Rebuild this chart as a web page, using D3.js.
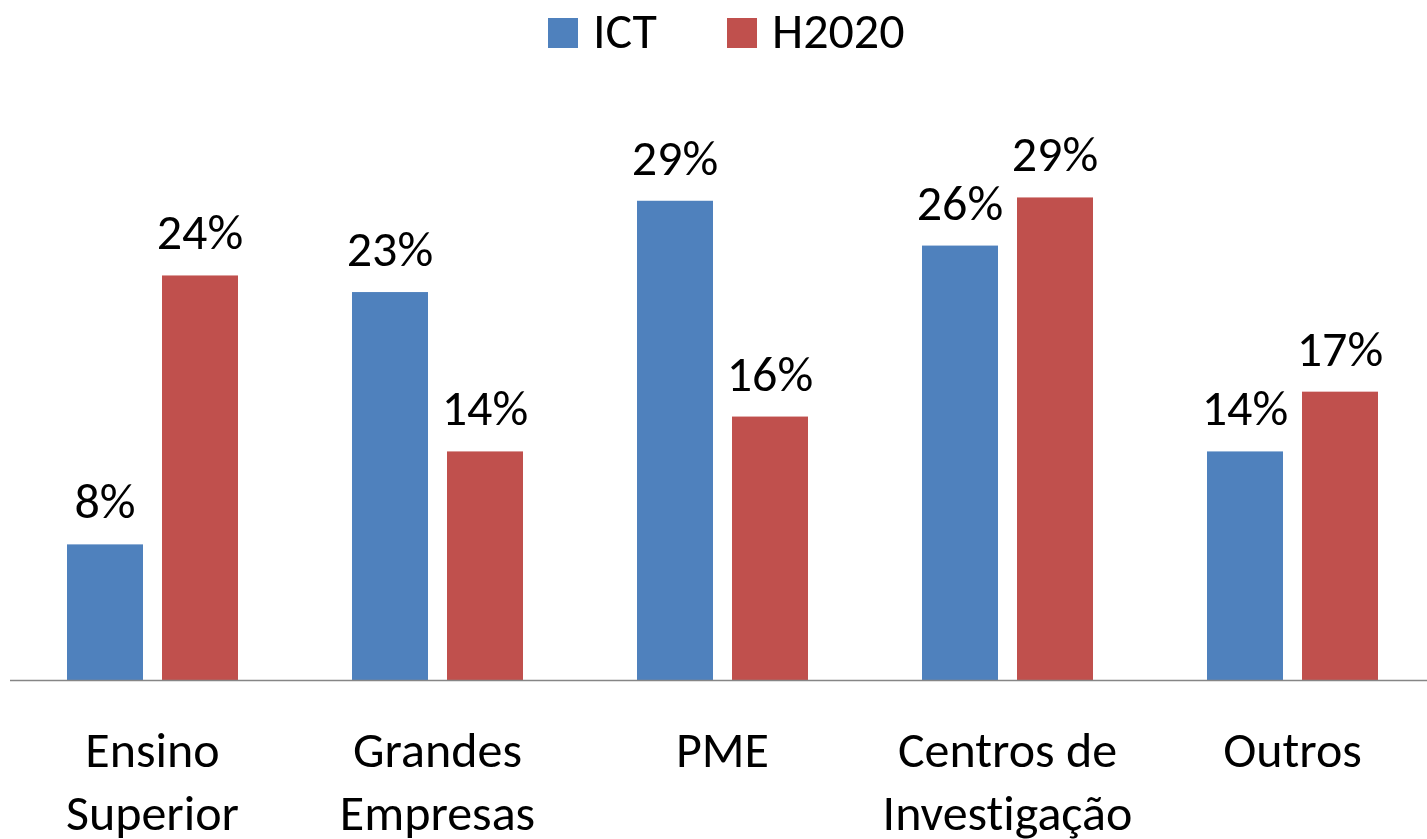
<!DOCTYPE html>
<meta charset="utf-8">
<title>ICT vs H2020</title>
<body>
<script src="https://cdn.jsdelivr.net/npm/d3@7"></script>
<style>
html, body {
    margin: 0;
    background: #fff;
}
svg {
    display: block;
    font-family: Carlito, Calibri, Lato, sans-serif;
    font-variant-ligatures: none;
}
</style>
<script>
var categories = ["Ensino Superior", "Grandes Empresas", "PME", "Centros de Investigação", "Outros"];
var categoryLines = [["Ensino", "Superior"], ["Grandes", "Empresas"], ["PME"], ["Centros de", "Investigação"], ["Outros"]];
var series = ["ICT", "H2020"];
var ictValues = [8.2, 23.4, 28.9, 26.2, 13.8];
var h2020Values = [24.4, 13.8, 15.9, 29.1, 17.4];
var colors = ["#4F81BD", "#C0504D"];

var width = 1427,
    height = 839,
    baseline = 680.5,
    fontSize = 50;

var svg = d3.select("body").append("svg")
    .attr("width", width)
    .attr("height", height);

var x0 = d3.scaleBand()
    .domain(categories)
    .range([10, 1435])
    .paddingInner(0.4)
    .paddingOuter(0.2);

var x1 = d3.scaleBand()
    .domain(series)
    .range([0, x0.bandwidth()])
    .paddingInner(0.2);

var y = d3.scaleLinear()
    .domain([0, 35])
    .range([baseline, baseline - 35 * 16.6]);

var rows = categories.map(function(c, i) {
    return { cat: c, vals: [
        { s: "ICT", v: ictValues[i] },
        { s: "H2020", v: h2020Values[i] }
    ] };
});

var groups = svg.selectAll("g.group")
    .data(rows)
    .enter().append("g")
    .attr("class", "group")
    .attr("transform", function(d) { return "translate(" + x0(d.cat) + ",0)"; });

groups.selectAll("rect")
    .data(function(d) { return d.vals; })
    .enter().append("rect")
    .attr("x", function(d) { return x1(d.s); })
    .attr("y", function(d) { return y(d.v); })
    .attr("width", x1.bandwidth())
    .attr("height", function(d) { return baseline - y(d.v); })
    .attr("fill", function(d) { return colors[series.indexOf(d.s)]; });

groups.selectAll("text.value")
    .data(function(d) { return d.vals; })
    .enter().append("text")
    .attr("class", "value")
    .attr("x", function(d) { return x1(d.s) + x1.bandwidth() / 2; })
    .attr("y", function(d) { return y(d.v) - 26; })
    .attr("text-anchor", "middle")
    .attr("font-size", fontSize)
    .attr("fill", "#000")
    .text(function(d) { return Math.round(d.v) + "%"; });

// category axis
svg.append("line")
    .attr("x1", 10)
    .attr("x2", width)
    .attr("y1", baseline)
    .attr("y2", baseline)
    .attr("stroke", "#868686")
    .attr("stroke-width", 1.5);

svg.selectAll("text.cat")
    .data(categories)
    .enter().append("text")
    .attr("class", "cat")
    .attr("text-anchor", "middle")
    .attr("font-size", fontSize)
    .attr("fill", "#000")
    .each(function(d, i) {
        var t = d3.select(this);
        categoryLines[i].forEach(function(line, j) {
            t.append("tspan")
                .attr("x", x0(d) + x0.bandwidth() / 2)
                .attr("y", 767 + j * 63)
                .text(line);
        });
    });

// legend
var legendX = [548, 727];
var legend = svg.selectAll("g.legend")
    .data(series)
    .enter().append("g")
    .attr("class", "legend")
    .attr("transform", function(d, i) { return "translate(" + legendX[i] + ",0)"; });

legend.append("rect")
    .attr("y", 18)
    .attr("width", 30)
    .attr("height", 30)
    .attr("fill", function(d, i) { return colors[i]; });

legend.append("text")
    .attr("x", 45)
    .attr("y", 48)
    .attr("font-size", fontSize)
    .attr("fill", "#000")
    .text(function(d) { return d; });
</script>
